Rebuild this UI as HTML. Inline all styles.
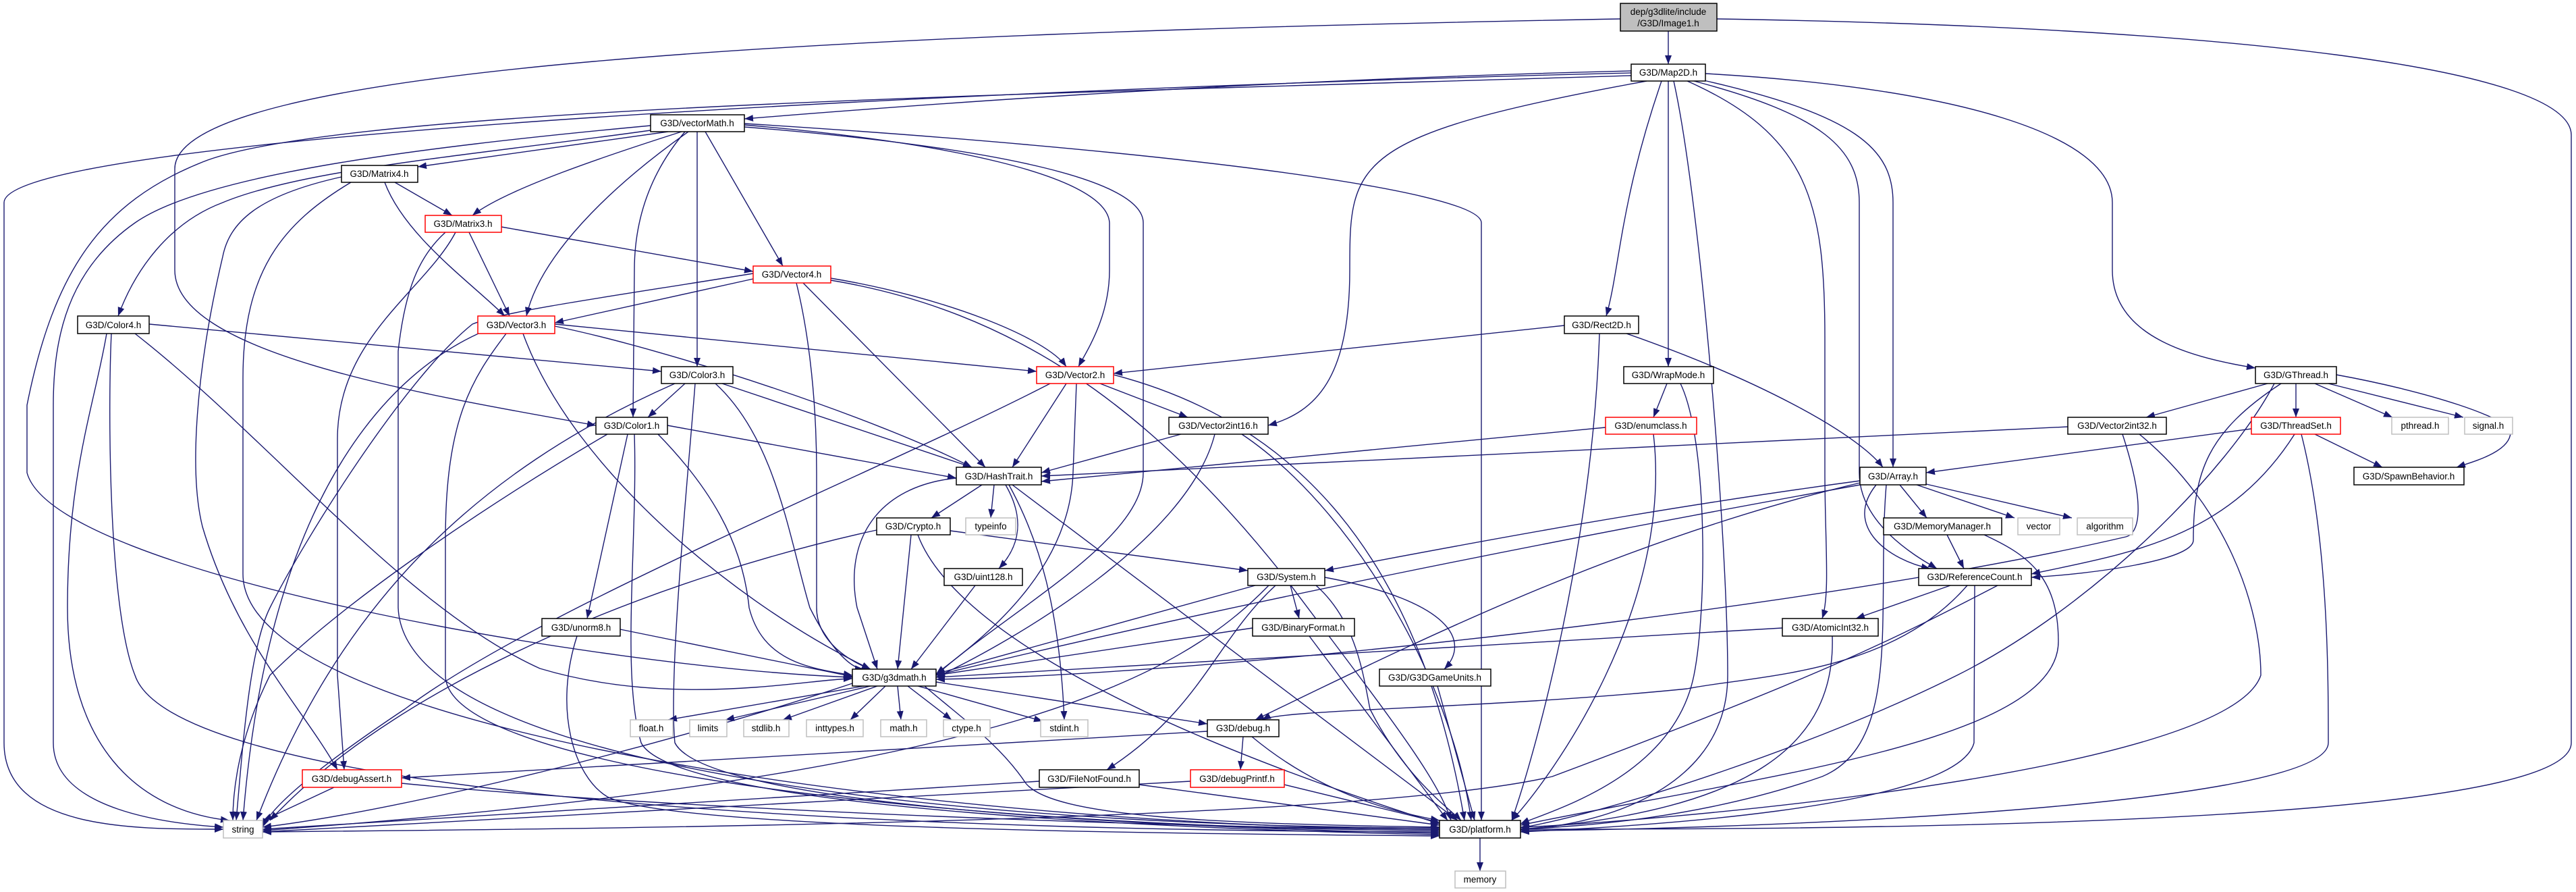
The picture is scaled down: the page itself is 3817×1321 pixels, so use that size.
<!DOCTYPE html>
<html><head><meta charset="utf-8"><style>
html,body{margin:0;padding:0;background:#fff;}
svg{display:block;}
text{font-family:"Liberation Sans",sans-serif;font-size:13.5px;text-anchor:middle;fill:#000;}
.e{fill:none;stroke:#191970;stroke-width:1.4;marker-end:url(#a);}
.n{fill:#fff;stroke:#000;stroke-width:1.5;}
.r{fill:#fff;stroke:#f00;stroke-width:1.5;}
.g{fill:#fff;stroke:#bfbfbf;stroke-width:1.5;}
</style></head><body>
<svg width="3817" height="1321" viewBox="0 0 3817 1321" xmlns="http://www.w3.org/2000/svg">
<defs><marker id="a" markerWidth="13" markerHeight="10" refX="13" refY="5" orient="auto" markerUnits="userSpaceOnUse"><path d="M0,0 L13,5 L0,10 z" fill="#191970"/></marker></defs>
<g>
<path class="e" d="M2472 46 L2472 95"/>
<path class="e" d="M2401 28 C1200 50, 259 100, 259 250 L259 400 C259 520, 600 580, 883 630"/>
<path class="e" d="M2544 28 C3300 40, 3810 100, 3810 200 L3810 1100 C3810 1230, 2600 1228, 2253 1228"/>
<path class="e" d="M2417 105 C1800 120, 1300 160, 1103 176"/>
<path class="e" d="M2417 108 C1500 130, 6 200, 6 300 L6 1100 C6 1230, 200 1228, 331 1228"/>
<path class="e" d="M2417 112 C1500 140, 500 160, 300 240 C150 300, 80 400, 40 600 L40 700 C80 850, 900 990, 1263 1003"/>
<path class="e" d="M2440 120 C2000 200, 2000 240, 2000 400 C2000 560, 1950 610, 1879 630"/>
<path class="e" d="M2462 120 C2400 300, 2400 400, 2380 468"/>
<path class="e" d="M2472 120 L2472 543"/>
<path class="e" d="M2480 120 C2520 300, 2560 800, 2560 1000 C2560 1200, 2300 1228, 2253 1228"/>
<path class="e" d="M2500 120 C2680 200, 2704 300, 2704 500 L2704 700 C2704 800, 2712 880, 2700 916"/>
<path class="e" d="M2510 120 C2700 170, 2755 220, 2755 300 L2755 700 C2755 780, 2850 830, 2870 842"/>
<path class="e" d="M2520 118 C2750 170, 2805 220, 2805 300 L2805 692"/>
<path class="e" d="M2527 109 C2900 130, 3130 200, 3130 300 L3130 400 C3130 500, 3250 530, 3342 545"/>
<path class="e" d="M990 195 L619 247"/>
<path class="e" d="M1010 195 C900 230, 750 280, 700 319"/>
<path class="e" d="M1020 195 C900 280, 800 380, 780 468"/>
<path class="e" d="M1045 195 L1160 394"/>
<path class="e" d="M1033 195 L1033 543"/>
<path class="e" d="M1015 195 C960 260, 940 330, 940 400 L938 618"/>
<path class="e" d="M964 193 C700 230, 450 250, 330 300 C250 330, 200 400, 175 468"/>
<path class="e" d="M964 186 C600 220, 300 260, 200 330 C100 400, 79 500, 79 600 L79 1100 C79 1200, 250 1220, 331 1225"/>
<path class="e" d="M1103 185 C1400 210, 1640 260, 1644 330 L1644 400 C1644 470, 1610 520, 1598 543"/>
<path class="e" d="M1103 188 C1500 220, 1694 270, 1694 330 L1694 700 C1694 800, 1500 900, 1387 1000"/>
<path class="e" d="M1103 183 C1700 220, 2195 280, 2195 330 L2195 1215"/>
<path class="e" d="M585 270 L670 319"/>
<path class="e" d="M570 270 C600 350, 700 420, 748 468"/>
<path class="e" d="M506 262 C380 290, 340 330, 330 380 C290 550, 280 700, 300 780 C350 950, 450 1050, 500 1140"/>
<path class="e" d="M520 270 C420 330, 360 400, 360 560 L360 850 C360 1100, 1500 1228, 2133 1228"/>
<path class="e" d="M743 336 L1116 402"/>
<path class="e" d="M695 344 L755 468"/>
<path class="e" d="M675 344 C630 430, 500 500, 500 650 L500 1000 L510 1140"/>
<path class="e" d="M660 344 C620 380, 600 430, 590 520 L590 900 C600 1150, 1500 1226, 2133 1226"/>
<path class="e" d="M1116 413 L822 478"/>
<path class="e" d="M1231 412 C1400 440, 1550 500, 1580 543"/>
<path class="e" d="M1190 419 L1460 692"/>
<path class="e" d="M1180 419 C1200 500, 1210 600, 1210 700 L1210 900 C1210 950, 1260 980, 1290 991"/>
<path class="e" d="M1231 415 C1500 460, 1700 600, 1900 850 C2050 1050, 2130 1150, 2150 1215"/>
<path class="e" d="M1116 405 C900 440, 750 460, 700 480 C600 560, 450 800, 400 900 C370 960, 360 1100, 350 1215"/>
<path class="e" d="M822 480 L1536 550"/>
<path class="e" d="M822 483 C1000 520, 1300 620, 1440 692"/>
<path class="e" d="M775 494 C850 700, 1100 900, 1290 991"/>
<path class="e" d="M718 490 C600 540, 400 700, 360 1215"/>
<path class="e" d="M750 494 C700 560, 660 620, 660 800 L660 1000 C660 1150, 1500 1228, 2133 1230"/>
<path class="e" d="M221 480 L980 550"/>
<path class="e" d="M158 494 C140 600, 100 700, 100 900 C100 1100, 200 1200, 340 1215"/>
<path class="e" d="M165 494 C160 600, 160 900, 200 1000 C250 1150, 1000 1230, 2133 1232"/>
<path class="e" d="M200 494 C400 650, 600 900, 800 990 C1000 1050, 1200 1005, 1263 1005"/>
<path class="e" d="M1015 568 L960 618"/>
<path class="e" d="M1070 568 L1440 692"/>
<path class="e" d="M1060 568 C1150 650, 1170 800, 1200 900 C1230 960, 1260 990, 1280 991"/>
<path class="e" d="M1000 568 C700 700, 500 900, 380 1215"/>
<path class="e" d="M1030 568 C1020 700, 990 1000, 1000 1100 C1050 1200, 1800 1228, 2133 1234"/>
<path class="e" d="M989 630 L1417 708"/>
<path class="e" d="M930 643 L870 916"/>
<path class="e" d="M975 643 C1050 720, 1100 800, 1110 900 C1130 980, 1200 990, 1263 1000"/>
<path class="e" d="M900 643 C700 760, 500 900, 400 1000 C350 1100, 345 1180, 345 1215"/>
<path class="e" d="M940 643 C945 800, 920 1000, 950 1100 C1000 1200, 1800 1230, 2133 1236"/>
<path class="e" d="M1630 568 L1760 618"/>
<path class="e" d="M1580 568 L1500 692"/>
<path class="e" d="M1595 568 L1590 700 C1585 850, 1450 950, 1387 998"/>
<path class="e" d="M1556 568 C1300 700, 800 900, 600 1050 C450 1150, 400 1200, 389 1225"/>
<path class="e" d="M1650 555 C1900 620, 2100 800, 2170 1215"/>
<path class="e" d="M1750 643 L1543 700"/>
<path class="e" d="M1800 643 C1760 800, 1500 950, 1387 1003"/>
<path class="e" d="M1840 643 C2000 750, 2150 1000, 2180 1215"/>
<path class="e" d="M2318 482 L1650 553"/>
<path class="e" d="M2410 494 C2600 560, 2750 640, 2790 692"/>
<path class="e" d="M2370 494 C2360 800, 2280 1100, 2240 1215"/>
<path class="e" d="M2470 568 L2450 618"/>
<path class="e" d="M2490 568 C2530 650, 2530 900, 2510 1000 C2480 1150, 2300 1200, 2253 1220"/>
<path class="e" d="M2379 633 L1543 713"/>
<path class="e" d="M2450 643 C2480 900, 2300 1150, 2240 1215"/>
<path class="e" d="M3360 568 L3180 618"/>
<path class="e" d="M3402 568 L3402 618"/>
<path class="e" d="M3430 568 L3545 618"/>
<path class="e" d="M3450 568 L3650 618"/>
<path class="e" d="M3462 555 C3600 580, 3720 620, 3720 640 C3720 670, 3660 685, 3640 692"/>
<path class="e" d="M3380 568 C3270 640, 3250 700, 3250 800 C3250 830, 3100 850, 3010 855"/>
<path class="e" d="M3370 568 C3300 700, 3100 900, 2900 1000 C2700 1100, 2400 1200, 2253 1226"/>
<path class="e" d="M3336 635 L2854 700"/>
<path class="e" d="M3430 643 L3530 692"/>
<path class="e" d="M3400 643 C3300 800, 3150 820, 3010 850"/>
<path class="e" d="M3410 643 C3450 800, 3450 1000, 3450 1100 C3450 1200, 2500 1230, 2253 1230"/>
<path class="e" d="M3064 632 L1543 705"/>
<path class="e" d="M3145 643 C3180 750, 3170 790, 3150 795 C2700 900, 1800 1000, 1387 1006"/>
<path class="e" d="M3170 643 C3300 750, 3350 900, 3350 1000 C3300 1150, 2400 1220, 2253 1225"/>
<path class="e" d="M1455 718 L1380 767"/>
<path class="e" d="M1473 718 L1468 767"/>
<path class="e" d="M1490 718 C1520 770, 1510 810, 1480 842"/>
<path class="e" d="M1417 708 C1300 720, 1250 800, 1270 900 L1300 991"/>
<path class="e" d="M1495 718 C1540 800, 1570 900, 1577 1066"/>
<path class="e" d="M1500 718 L2160 1215"/>
<path class="e" d="M2756 712 C2400 760, 2100 820, 1963 845"/>
<path class="e" d="M2815 718 L2855 767"/>
<path class="e" d="M2840 718 L2985 767"/>
<path class="e" d="M2850 716 L3070 767"/>
<path class="e" d="M2780 718 C2730 780, 2800 830, 2860 842"/>
<path class="e" d="M2756 715 C2400 800, 2100 950, 1860 1066"/>
<path class="e" d="M2795 718 C2780 900, 2820 1100, 2700 1150 C2500 1220, 2300 1225, 2253 1228"/>
<path class="e" d="M2756 718 C2300 800, 1800 900, 1387 1000"/>
<path class="e" d="M1408 786 L1849 845"/>
<path class="e" d="M1350 792 L1330 991"/>
<path class="e" d="M1299 785 C1000 850, 600 1000, 400 1215"/>
<path class="e" d="M1360 792 C1400 900, 1600 1050, 2133 1220"/>
<path class="e" d="M1445 867 L1350 991"/>
<path class="e" d="M1860 867 L1387 998"/>
<path class="e" d="M1912 867 L1925 916"/>
<path class="e" d="M1963 855 C2150 890, 2180 950, 2140 991"/>
<path class="e" d="M1890 867 C1800 950, 1780 1050, 1640 1140"/>
<path class="e" d="M1880 867 C1750 1000, 1500 1150, 389 1230"/>
<path class="e" d="M1950 867 C2010 920, 2020 1000, 2030 1050 C2080 1150, 2150 1200, 2165 1215"/>
<path class="e" d="M2885 792 L2910 842"/>
<path class="e" d="M2940 792 C3000 820, 3050 850, 3050 950 C3050 1100, 2600 1150, 2253 1222"/>
<path class="e" d="M2890 867 L2750 916"/>
<path class="e" d="M2915 867 C2800 1000, 2600 1000, 2500 1020 C2200 1050, 1900 1050, 1870 1066"/>
<path class="e" d="M2926 867 L2925 1100 C2900 1200, 2400 1225, 2253 1232"/>
<path class="e" d="M2960 867 C2800 950, 2700 1000, 2300 1150 C2000 1220, 800 1228, 389 1232"/>
<path class="e" d="M919 932 L1263 1002"/>
<path class="e" d="M855 942 C820 1050, 850 1150, 900 1180 C1000 1230, 1800 1235, 2133 1238"/>
<path class="e" d="M1856 930 L1387 1000"/>
<path class="e" d="M1940 942 L2145 1215"/>
<path class="e" d="M2641 930 L1387 1003"/>
<path class="e" d="M2715 942 C2720 1100, 2600 1200, 2253 1228"/>
<path class="e" d="M2130 1016 L2185 1215"/>
<path class="e" d="M1280 1016 L990 1066"/>
<path class="e" d="M1290 1016 L1075 1066"/>
<path class="e" d="M1300 1016 L1160 1066"/>
<path class="e" d="M1312 1016 L1260 1066"/>
<path class="e" d="M1330 1016 L1335 1066"/>
<path class="e" d="M1345 1016 L1410 1066"/>
<path class="e" d="M1360 1016 L1545 1068"/>
<path class="e" d="M1387 1010 L1789 1072"/>
<path class="e" d="M1370 1016 C1420 1060, 1480 1100, 1520 1160 C1560 1210, 1800 1220, 2133 1225"/>
<path class="e" d="M1263 1012 C1000 1100, 600 1200, 389 1225"/>
<path class="e" d="M1789 1083 L595 1152"/>
<path class="e" d="M1842 1091 L1838 1140"/>
<path class="e" d="M1855 1091 C1950 1170, 2050 1200, 2133 1215"/>
<path class="e" d="M495 1166 L390 1215"/>
<path class="e" d="M595 1160 C1000 1200, 1800 1228, 2133 1228"/>
<path class="e" d="M1540 1157 L389 1228"/>
<path class="e" d="M1688 1162 L2133 1222"/>
<path class="e" d="M1764 1157 L389 1232"/>
<path class="e" d="M1903 1162 L2133 1218"/>
<path class="e" d="M2193 1241 L2193 1290"/>
</g>
<g>
<rect x="2401" y="5" width="143" height="41" style="fill:#bfbfbf;stroke:#000;stroke-width:1.5"/>
<text x="2472" y="22">dep/g3dlite/include</text><text x="2472" y="39">/G3D/Image1.h</text>
<rect class="n" x="2417" y="95" width="110" height="25"/><text x="2472" y="112">G3D/Map2D.h</text>
<rect class="n" x="964" y="170" width="139" height="25"/><text x="1033" y="187">G3D/vectorMath.h</text>
<rect class="n" x="506" y="245" width="113" height="25"/><text x="562" y="262">G3D/Matrix4.h</text>
<rect class="r" x="630" y="319" width="113" height="25"/><text x="686" y="336">G3D/Matrix3.h</text>
<rect class="r" x="1116" y="394" width="115" height="25"/><text x="1173" y="411">G3D/Vector4.h</text>
<rect class="r" x="708" y="468" width="114" height="26"/><text x="765" y="486">G3D/Vector3.h</text>
<rect class="n" x="115" y="468" width="106" height="26"/><text x="168" y="486">G3D/Color4.h</text>
<rect class="n" x="2318" y="468" width="110" height="26"/><text x="2373" y="486">G3D/Rect2D.h</text>
<rect class="n" x="980" y="543" width="106" height="25"/><text x="1033" y="560">G3D/Color3.h</text>
<rect class="r" x="1536" y="543" width="114" height="25"/><text x="1593" y="560">G3D/Vector2.h</text>
<rect class="n" x="2406" y="543" width="133" height="25"/><text x="2472" y="560">G3D/WrapMode.h</text>
<rect class="n" x="3342" y="543" width="120" height="25"/><text x="3402" y="560">G3D/GThread.h</text>
<rect class="n" x="883" y="618" width="106" height="25"/><text x="936" y="635">G3D/Color1.h</text>
<rect class="n" x="1732" y="618" width="147" height="25"/><text x="1805" y="635">G3D/Vector2int16.h</text>
<rect class="r" x="2379" y="618" width="135" height="25"/><text x="2446" y="635">G3D/enumclass.h</text>
<rect class="n" x="3064" y="618" width="146" height="25"/><text x="3137" y="635">G3D/Vector2int32.h</text>
<rect class="r" x="3336" y="618" width="132" height="25"/><text x="3402" y="635">G3D/ThreadSet.h</text>
<rect class="g" x="3544" y="618" width="84" height="25"/><text x="3586" y="635">pthread.h</text>
<rect class="g" x="3652" y="618" width="71" height="25"/><text x="3687" y="635">signal.h</text>
<rect class="n" x="1417" y="692" width="126" height="26"/><text x="1480" y="710">G3D/HashTrait.h</text>
<rect class="n" x="2756" y="692" width="98" height="26"/><text x="2805" y="710">G3D/Array.h</text>
<rect class="n" x="3488" y="692" width="163" height="26"/><text x="3569" y="710">G3D/SpawnBehavior.h</text>
<rect class="n" x="1299" y="767" width="109" height="25"/><text x="1353" y="784">G3D/Crypto.h</text>
<rect class="g" x="1431" y="767" width="74" height="25"/><text x="1468" y="784">typeinfo</text>
<rect class="n" x="2791" y="767" width="175" height="25"/><text x="2878" y="784">G3D/MemoryManager.h</text>
<rect class="g" x="2990" y="767" width="62" height="25"/><text x="3021" y="784">vector</text>
<rect class="g" x="3078" y="767" width="82" height="25"/><text x="3119" y="784">algorithm</text>
<rect class="n" x="1399" y="842" width="116" height="25"/><text x="1457" y="859">G3D/uint128.h</text>
<rect class="n" x="1849" y="842" width="114" height="25"/><text x="1906" y="859">G3D/System.h</text>
<rect class="n" x="2843" y="842" width="167" height="25"/><text x="2926" y="859">G3D/ReferenceCount.h</text>
<rect class="n" x="803" y="916" width="116" height="26"/><text x="861" y="934">G3D/unorm8.h</text>
<rect class="n" x="1856" y="916" width="151" height="26"/><text x="1931" y="934">G3D/BinaryFormat.h</text>
<rect class="n" x="2641" y="916" width="142" height="26"/><text x="2712" y="934">G3D/AtomicInt32.h</text>
<rect class="n" x="1263" y="991" width="124" height="25"/><text x="1325" y="1008">G3D/g3dmath.h</text>
<rect class="n" x="2044" y="991" width="165" height="25"/><text x="2126" y="1008">G3D/G3DGameUnits.h</text>
<rect class="g" x="934" y="1066" width="63" height="25"/><text x="965" y="1083">float.h</text>
<rect class="g" x="1022" y="1066" width="55" height="25"/><text x="1049" y="1083">limits</text>
<rect class="g" x="1102" y="1066" width="67" height="25"/><text x="1135" y="1083">stdlib.h</text>
<rect class="g" x="1195" y="1066" width="84" height="25"/><text x="1237" y="1083">inttypes.h</text>
<rect class="g" x="1305" y="1066" width="68" height="25"/><text x="1339" y="1083">math.h</text>
<rect class="g" x="1398" y="1066" width="69" height="25"/><text x="1432" y="1083">ctype.h</text>
<rect class="g" x="1542" y="1066" width="70" height="25"/><text x="1577" y="1083">stdint.h</text>
<rect class="n" x="1789" y="1066" width="106" height="25"/><text x="1842" y="1083">G3D/debug.h</text>
<rect class="r" x="448" y="1140" width="147" height="26"/><text x="521" y="1158">G3D/debugAssert.h</text>
<rect class="n" x="1540" y="1140" width="148" height="26"/><text x="1614" y="1158">G3D/FileNotFound.h</text>
<rect class="r" x="1764" y="1140" width="139" height="26"/><text x="1833" y="1158">G3D/debugPrintf.h</text>
<rect class="g" x="331" y="1215" width="58" height="26"/><text x="360" y="1233">string</text>
<rect class="n" x="2133" y="1215" width="120" height="26"/><text x="2193" y="1233">G3D/platform.h</text>
<rect class="g" x="2156" y="1290" width="75" height="25"/><text x="2193" y="1307">memory</text>
</g>
</svg>
</body></html>
